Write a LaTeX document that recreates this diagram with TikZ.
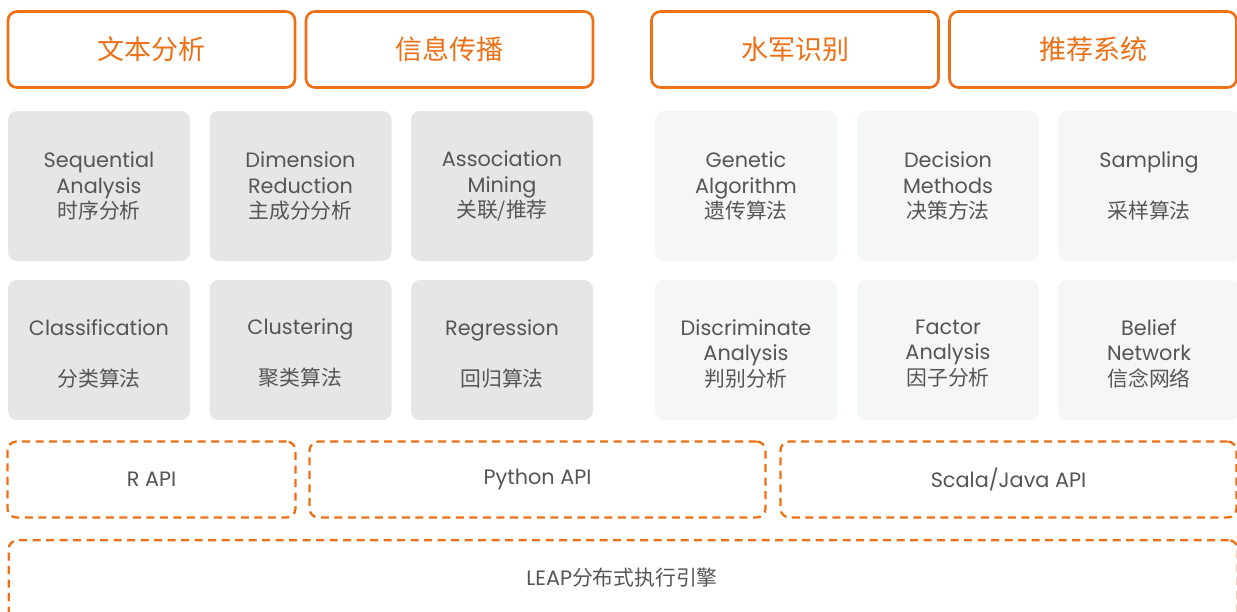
\documentclass[tikz,border=0pt]{standalone}
\usepackage{fontspec}
\setmainfont{Poppins}
\newfontfamily\cjk{Noto Sans CJK SC}
\definecolor{accent}{HTML}{EE7016}
\definecolor{ink}{HTML}{555555}
\definecolor{cardA}{HTML}{E6E6E6}
\definecolor{cardB}{HTML}{F5F6F6}
\tikzset{
  head/.style={draw=accent, line width=2.6pt, rounded corners=9pt, fill=white,
    minimum width=287pt, minimum height=76pt, inner sep=0pt,
    text=accent, font=\cjk\fontsize{27}{32}\selectfont},
  card/.style={rounded corners=9pt, minimum width=182pt, inner sep=0pt,
    text=ink, align=center, font=\fontsize{20.8}{25.5}\selectfont},
  cardgray/.style={card, fill=cardA},
  cardlight/.style={card, fill=cardB},
  tall/.style={minimum height=150pt},
  short/.style={minimum height=140pt},
  cardtext/.style={text=ink, align=center, inner sep=0pt, yshift=-3.5pt,
    font=\fontsize{20.8}{25.5}\selectfont},
  api/.style={draw=accent, line width=2.3pt, dash pattern=on 8pt off 5.5pt,
    rounded corners=9pt, minimum height=76pt, inner sep=0pt,
    text=ink, font=\fontsize{20.8}{24}\selectfont},
}
\begin{document}
\begin{tikzpicture}[x=1pt,y=-1pt]
\useasboundingbox[fill=white] (0,0) rectangle (1237,611);

% application headers
\node[head] (h1) at (151.5,49.5) {文本分析};
\node[head] (h2) at (449.5,49.5) {信息传播};
\node[head] (h3) at (795,49.5) {水军识别};
\node[head] (h4) at (1093,49.5) {推荐系统};

% algorithm cards, first row
\node[cardgray,tall] (seq) at (99,186) {Sequential\\Analysis\\{\cjk 时序分析}};
\node[cardgray,tall] (dim) at (300.5,186) {Dimension\\Reduction\\{\cjk 主成分分析}};
\node[cardgray,tall] (asc) at (502,186) {Association\\Mining\\{\cjk 关联/推荐}};
\node[cardlight,tall] (gen) at (746,186) {Genetic\\Algorithm\\{\cjk 遗传算法}};
\node[cardlight,tall] (dec) at (948,186) {Decision\\Methods\\{\cjk 决策方法}};
\node[cardlight,tall] (smp) at (1149,186) {Sampling\\\strut\\{\cjk 采样算法}};

% algorithm cards, second row (text sits a little below centre)
\node[cardgray,short,label={[cardtext]center:Classification\\\strut\\{\cjk 分类算法}}] (cls) at (99,350) {};
\node[cardgray,short,label={[cardtext]center:Clustering\\\strut\\{\cjk 聚类算法}}] (clu) at (300.5,350) {};
\node[cardgray,short,label={[cardtext]center:Regression\\\strut\\{\cjk 回归算法}}] (reg) at (502,350) {};
\node[cardlight,short,label={[cardtext]center:Discriminate\\Analysis\\{\cjk 判别分析}}] (dis) at (746,350) {};
\node[cardlight,short,label={[cardtext]center:Factor\\Analysis\\{\cjk 因子分析}}] (fac) at (948,350) {};
\node[cardlight,short,label={[cardtext]center:Belief\\Network\\{\cjk 信念网络}}] (bel) at (1149,350) {};

% language bindings
\node[api, minimum width=288pt] (rapi) at (151.5,479.5) {R API};
\node[api, minimum width=456pt] (pyapi) at (537.5,479.5) {Python API};
\node[api, minimum width=456pt] (jvapi) at (1008.5,479.5) {\raisebox{-2pt}{Scala/Java API}};

% execution engine
\node[api, minimum width=1229pt, minimum height=100pt, anchor=north west] (leap) at (7.5,539) {};
\node[text=ink, font=\fontsize{20.8}{24}\selectfont] (leaplbl) at (622,578) {LEAP{\cjk 分布式执行引擎}};
\end{tikzpicture}
\end{document}
